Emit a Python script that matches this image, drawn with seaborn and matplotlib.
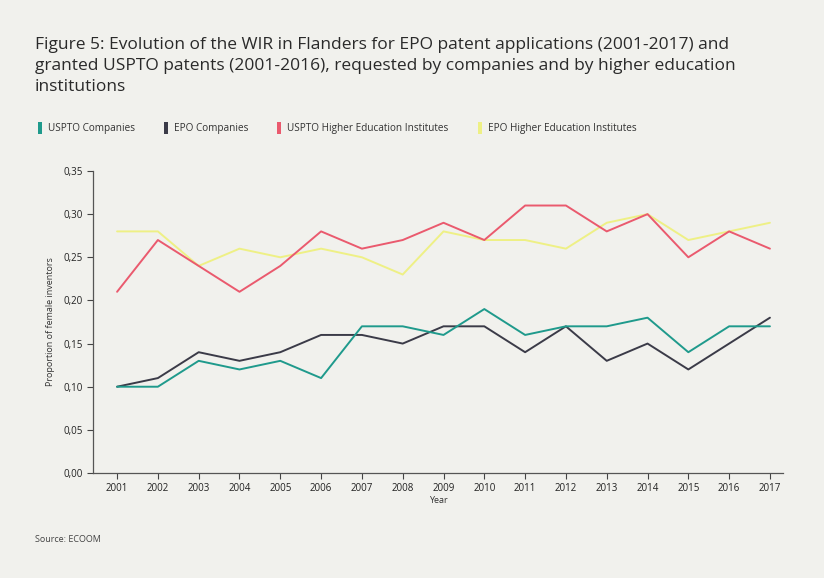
import numpy as np
import pandas as pd
import matplotlib.pyplot as plt
import seaborn as sns
from matplotlib.patches import Patch
from matplotlib.ticker import FuncFormatter

years = list(range(2001, 2018))
uspto_comp = [0.10, 0.10, 0.13, 0.12, 0.13, 0.11, 0.17, 0.17, 0.16, 0.19, 0.16, 0.17, 0.17, 0.18, 0.14, 0.17, 0.17]
epo_comp = [0.10, 0.11, 0.14, 0.13, 0.14, 0.16, 0.16, 0.15, 0.17, 0.17, 0.14, 0.17, 0.13, 0.15, 0.12, 0.15, 0.18]
uspto_hei = [0.21, 0.27, 0.24, 0.21, 0.24, 0.28, 0.26, 0.27, 0.29, 0.27, 0.31, 0.31, 0.28, 0.30, 0.25, 0.28, 0.26]
epo_hei = [0.28, 0.28, 0.24, 0.26, 0.25, 0.26, 0.25, 0.23, 0.28, 0.27, 0.27, 0.26, 0.29, 0.30, 0.27, 0.28, 0.29]

series = ["USPTO Companies", "EPO Companies", "USPTO Higher Education Institutes", "EPO Higher Education Institutes"]
colors = ["#1f9a8c", "#3b3b48", "#ea5a6e", "#eef085"]

df = pd.DataFrame({
    "Year": years * 4,
    "value": uspto_comp + epo_comp + uspto_hei + epo_hei,
    "series": [s for s in series for _ in years],
})

sns.set_style("ticks")
plt.rcParams['font.family'] = ['Open Sans', 'DejaVu Sans']
bg = "#f1f1ed"

fig = plt.figure(figsize=(8.24, 5.78), dpi=100, facecolor=bg)
ax = fig.add_axes([93 / 824, 1 - 473 / 578, (783 - 93) / 824, (473 - 171) / 578])
ax.set_facecolor(bg)

# draw in reverse order so the company lines sit on top
sns.lineplot(data=df, x="Year", y="value", hue="series", hue_order=series[::-1],
             palette=colors[::-1], linewidth=1.4, ax=ax, legend=False)

ax.set_xlim(2000.41, 2017.32)
ax.set_ylim(0, 0.35)
ax.set_xticks(years)
ax.set_yticks(np.arange(0, 0.351, 0.05))
ax.yaxis.set_major_formatter(FuncFormatter(lambda v, p: f"{v:.2f}".replace(".", ",")))
ax.tick_params(labelsize=7, colors="#444444", length=4, width=0.8)
for lab in ax.get_xticklabels() + ax.get_yticklabels():
    lab.set_color("#222222")
sns.despine(ax=ax)
for sp in ["left", "bottom"]:
    ax.spines[sp].set_color("#555555")
    ax.spines[sp].set_linewidth(0.9)

ax.set_xlabel("Year", fontsize=6.5, color="#333333", labelpad=1)
ax.set_ylabel("Proportion of female inventors", fontsize=6.5, color="#333333", labelpad=6)

fig.text(35 / 824, 1 - 37 / 578,
         "Figure 5: Evolution of the WIR in Flanders for EPO patent applications (2001-2017) and\n"
         "granted USPTO patents (2001-2016), requested by companies and by higher education\n"
         "institutions",
         fontsize=12.5, color="#2a2a2a", va="top", ha="left", linespacing=1.4)

handles = [Patch(facecolor=c, edgecolor="none") for c in colors]
fig.legend(handles, series, loc="center left", bbox_to_anchor=(29 / 824, 1 - 128 / 578),
           ncol=4, frameon=False, fontsize=7.2, handlelength=0.4, handleheight=1.5,
           handletextpad=0.6, columnspacing=2.9, labelcolor="#333333")

fig.text(35 / 824, 1 - 540 / 578, "Source: ECOOM", fontsize=6.5, color="#444444",
         va="center", ha="left")

fig.savefig("out.png", dpi=100, facecolor=bg)
